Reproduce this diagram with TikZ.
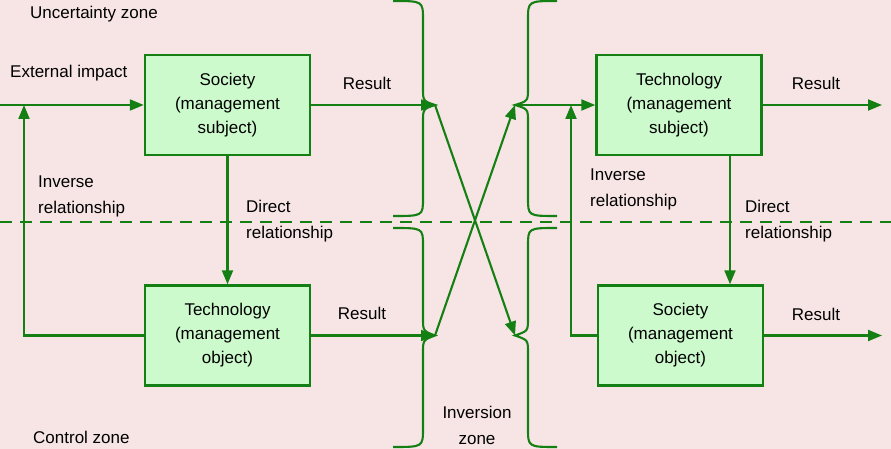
\documentclass[tikz,border=0pt]{standalone}
\usepackage{fontspec}
\setmainfont{Liberation Sans}
\usetikzlibrary{arrows.meta}
\definecolor{bg}{RGB}{247,229,229}
\definecolor{gr}{RGB}{20,128,20}
\definecolor{boxfill}{RGB}{204,250,204}
\begin{document}
\begin{tikzpicture}[x=1pt,y=-1pt,
  box/.style={draw=gr,fill=boxfill,line width=2.4pt,minimum width=165pt,minimum height=100pt,
    align=center,inner sep=0pt,font=\fontsize{17}{24}\selectfont},
  conn/.style={draw=gr,line width=2.1pt},
  arr/.style={conn,-{Triangle[length=14pt,width=11pt]}},
  brace/.style={draw=gr,line width=2.1pt},
  lbl/.style={font=\fontsize{17}{26}\selectfont,inner sep=0pt,text=black},
  lbll/.style={lbl,anchor=west,align=left}]
\fill[bg] (0,0) rectangle (891,449);
\useasboundingbox (0,0) rectangle (891,449);
% dashed zone separator
\coordinate (dl) at (0,222);
\coordinate (dr) at (891,222);
\draw[gr,line width=1.7pt,dash pattern=on 12pt off 8pt] (dl) -- (dr);
% boxes
\node[box] (s1) at (227.5,105) {Society\\(management\\subject)};
\node[box] (t1) at (227.5,335.5) {Technology\\(management\\object)};
\node[box] (t2) at (679,105) {Technology\\(management\\subject)};
\node[box] (s2) at (680.5,335.5) {Society\\(management\\object)};
% brace tips
\coordinate (lu) at (435,105);
\coordinate (ll) at (435,335.5);
\coordinate (ru) at (515,105);
\coordinate (rl) at (515,335.5);
% braces
\draw[brace] (393,1) .. controls (423,1) .. (423,20) -- (423,88) .. controls (423,101) .. (lu)
  .. controls (423,109) .. (423,122) -- (423,198) .. controls (423,216) .. (393,216);
\draw[brace] (393,228) .. controls (423,228) .. (423,246) -- (423,318) .. controls (423,331) .. (ll)
  .. controls (423,340) .. (423,353) -- (423,428) .. controls (423,447) .. (393,447);
\draw[brace] (557,1) .. controls (528,1) .. (528,20) -- (528,88) .. controls (528,101) .. (ru)
  .. controls (528,109) .. (528,122) -- (528,198) .. controls (528,216) .. (557,216);
\draw[brace] (557,228) .. controls (528,228) .. (528,246) -- (528,318) .. controls (528,331) .. (rl)
  .. controls (528,340) .. (528,353) -- (528,428) .. controls (528,447) .. (557,447);
% crossing arrows
\draw[arr] (lu) -- (rl);
\draw[arr] (ll) -- (ru);
% left half
\coordinate (ein) at (0,105);
\coordinate (j1) at (24,105);
\draw[arr] (ein) -- (s1.west);
\draw[arr] (t1.west) -| (j1);
\draw[arr] (s1.south) -- (t1.north);
\draw[arr] (s1.east) -- (lu);
\draw[arr] (t1.east) -- (ll);
% right half
\coordinate (j2) at (571,105);
\coordinate (o1) at (882,105);
\coordinate (o2) at (882,335.5);
\draw[arr] (ru) -- (t2.west);
\draw[arr] (s2.west) -| (j2);
\draw[arr] ([xshift=51pt]t2.south) -- ([xshift=51pt]t2.south |- s2.north);
\draw[arr] (t2.east) -- (o1);
\draw[arr] (s2.east) -- (o2);
% labels
\node[lbll] (uz) at (30,14) {Uncertainty zone};
\node[lbll] (cz) at (33,437) {Control zone};
\node[lbll] (ei) at (10,73) {External impact};
\node[lbl] (r1) at (367,83) {Result};
\node[lbl] (r2) at (362,313) {Result};
\node[lbl] (r3) at (816,83) {Result};
\node[lbl] (r4) at (816,314) {Result};
\node[lbll] (ir1) at (38,196.5) {Inverse\\relationship};
\node[lbll] (ir2) at (590,189) {Inverse\\relationship};
\node[lbll] (dr1) at (246,221.5) {Direct\\relationship};
\node[lbll] (dr2) at (745,221.5) {Direct\\relationship};
\node[lbl,align=center] (iz) at (477,425.5) {Inversion\\zone};
\end{tikzpicture}
\end{document}
